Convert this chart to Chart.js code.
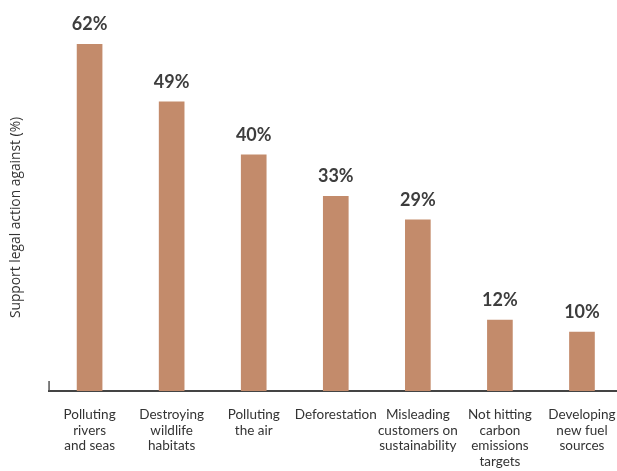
<!DOCTYPE html>
<html>
<head>
<meta charset="utf-8">
<script src="https://cdn.jsdelivr.net/npm/chart.js@4"></script>
<style>
  html, body { margin: 0; padding: 0; background: #fff; overflow: hidden; }
  canvas { display: block; }
</style>
</head>
<body>
<canvas id="chart" width="623" height="471"></canvas>
<script>
const categories = [
    ['Polluting', 'rivers', 'and seas'],
    ['Destroying', 'wildlife', 'habitats'],
    ['Polluting', 'the air'],
    ['Deforestation'],
    ['Misleading', 'customers on', 'sustainability'],
    ['Not hitting', 'carbon', 'emissions', 'targets'],
    ['Developing', 'new fuel', 'sources']
];
const support = [62, 49, 40, 33, 29, 12, 10];
const axisTitle = 'Support legal action against (%)';

// value labels above each bar (kept inside the visible area for the clipped first bar)
const valueLabels = {
    id: 'valueLabels',
    afterDatasetsDraw(chart) {
        const ctx = chart.ctx;
        const meta = chart.getDatasetMeta(0);
        ctx.save();
        ctx.font = 'bold 18px Lato';
        ctx.fillStyle = '#3d3d3d';
        ctx.textAlign = 'center';
        ctx.textBaseline = 'bottom';
        meta.data.forEach((bar, i) => {
            const top = Math.max(bar.y, chart.chartArea.top);
            ctx.fillText(support[i] + '%', bar.x, top - 11);
        });
        ctx.restore();
    }
};

// the short stub at the left end of the baseline
const axisStub = {
    id: 'axisStub',
    afterDraw(chart) {
        const { left, bottom } = chart.chartArea;
        const ctx = chart.ctx;
        ctx.save();
        ctx.strokeStyle = '#555';
        ctx.lineWidth = 1.5;
        ctx.beginPath();
        ctx.moveTo(left + 0.5, bottom - 10);
        ctx.lineTo(left + 0.5, bottom);
        ctx.stroke();
        ctx.restore();
    }
};

new Chart(document.getElementById('chart'), {
    type: 'bar',
    data: {
        labels: categories,
        datasets: [{
            data: support,
            backgroundColor: '#c38b6b',
            barThickness: 25
        }]
    },
    options: {
        responsive: false,
        animation: false,
        layout: { padding: { top: 44, left: 0, right: 0, bottom: 0 } },
        plugins: {
            legend: { display: false },
            tooltip: { enabled: false }
        },
        scales: {
            x: {
                grid: { display: false, drawTicks: false },
                border: { display: true, color: '#444', width: 2 },
                ticks: {
                    autoSkip: false,
                    maxRotation: 0,
                    padding: 16,
                    color: '#333',
                    font: { family: 'Lato', size: 13.5, lineHeight: 1.15 }
                },
                afterFit(scale) {
                    scale.height = 80;
                    scale.paddingLeft = 0;
                    scale.paddingRight = 0;
                }
            },
            y: {
                min: 0,
                max: 58.8,
                grid: { display: false, drawTicks: false },
                border: { display: false },
                ticks: { display: false },
                title: {
                    display: true,
                    text: axisTitle,
                    color: '#333',
                    font: { family: 'Open Sans', size: 13.8 },
                    padding: { top: 8, bottom: 24 }
                }
            }
        }
    },
    plugins: [valueLabels, axisStub]
});
</script>
</body>
</html>
